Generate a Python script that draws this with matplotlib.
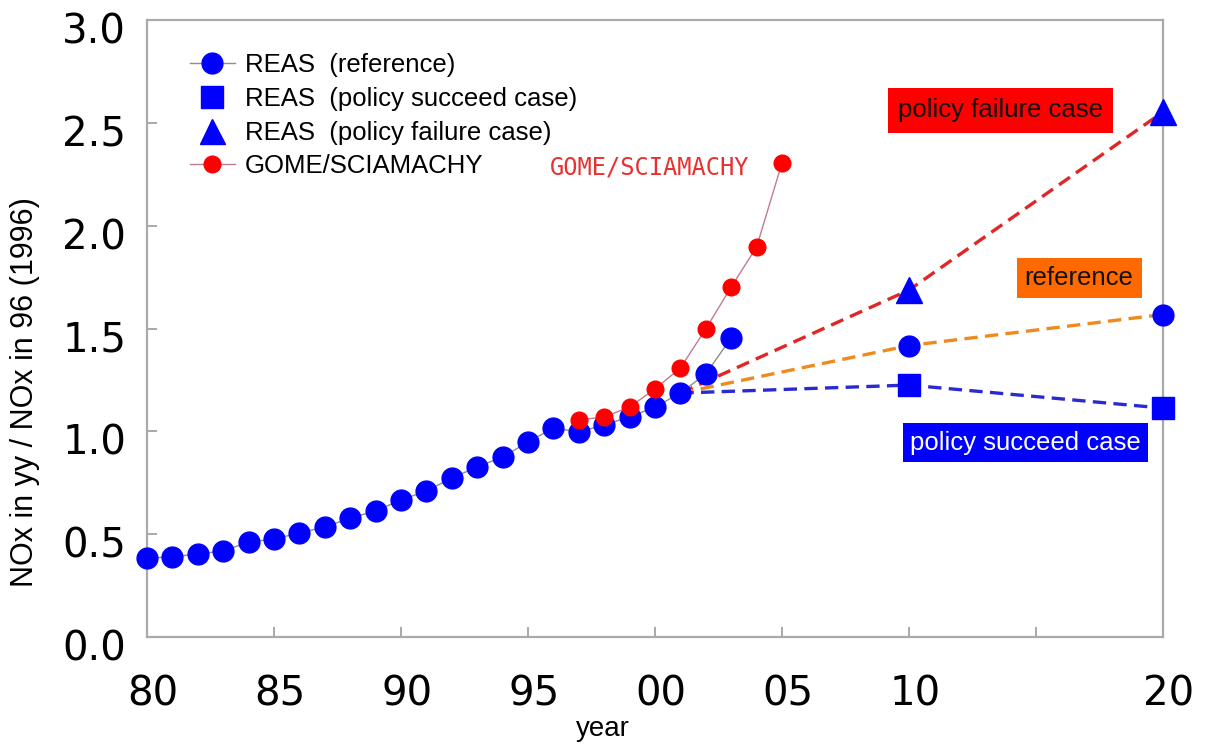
import matplotlib
matplotlib.use("Agg")
import matplotlib.pyplot as plt
import matplotlib.transforms as mtrans
from matplotlib.lines import Line2D

# --- data ---
hist_years = list(range(1980, 2004))
reas_hist = [0.384, 0.389, 0.404, 0.418, 0.462, 0.476, 0.506, 0.535, 0.578, 0.613,
             0.666, 0.710, 0.773, 0.827, 0.875, 0.948, 1.016, 0.997, 1.031, 1.070,
             1.118, 1.186, 1.279, 1.454]

gome_years = list(range(1997, 2006))
gome_vals = [1.055, 1.070, 1.118, 1.206, 1.308, 1.498, 1.702, 1.896, 2.305]

# scenarios branch off from the 2001 REAS value
branch_year = 2001
branch_val = 1.186
future_years = [2010, 2020]
ref_future = [1.417, 1.568]
succeed_future = [1.225, 1.113]
failure_future = [1.687, 2.553]

xticks = [1980, 1985, 1990, 1995, 2000, 2005, 2010, 2015, 2020]
xticklabels = ["80", "85", "90", "95", "00", "05", "10", "", "20"]
yticks = [0.0, 0.5, 1.0, 1.5, 2.0, 2.5, 3.0]

BLUE = "#0000ff"
RED = "#ff0000"
LBL = "Liberation Sans"

fig = plt.figure(figsize=(12.06, 7.49), dpi=100)
ax = fig.add_axes([147 / 1206, 112 / 749, 1016 / 1206, 617 / 749])

dash = (4, 2.2)
# scenario dashed lines
ax.plot([branch_year] + future_years, [branch_val] + failure_future, color="#e02626",
        lw=2.4, dashes=dash, zorder=2)
ax.plot([branch_year] + future_years, [branch_val] + ref_future, color="#f08a1e",
        lw=2.4, dashes=dash, zorder=2)
ax.plot([branch_year] + future_years, [branch_val] + succeed_future, color="#2a2ad0",
        lw=2.4, dashes=dash, zorder=2)

# REAS history
ax.plot(hist_years, reas_hist, color="#8c8c8c", lw=1.0, marker="o", ms=15,
        mfc=BLUE, mec=BLUE, zorder=3, clip_on=False)
ax.plot(future_years, ref_future, ls="none", marker="o", ms=15, mfc=BLUE, mec=BLUE,
        zorder=3, clip_on=False)
ax.plot(future_years, succeed_future, ls="none", marker="s", ms=16, mfc=BLUE, mec=BLUE,
        zorder=3, clip_on=False)
ax.plot(future_years, failure_future, ls="none", marker="^", ms=19, mfc=BLUE, mec=BLUE,
        zorder=3, clip_on=False)

# GOME/SCIAMACHY
ax.plot(gome_years, gome_vals, color="#c07c90", lw=1.0, marker="o", ms=12,
        mfc=RED, mec=RED, zorder=4)

ax.set_xlim(1980, 2020)
ax.set_ylim(0, 3.0)

ax.set_xticks(xticks)
ax.set_xticklabels(xticklabels)
ax.set_yticks(yticks)
ax.set_yticklabels([f"{v:.1f}" for v in yticks])
ax.tick_params(direction="in", length=7, width=1.2, color="#999999",
               labelsize=29, top=False, right=False)
ax.tick_params(axis="x", pad=27)
ax.tick_params(axis="y", pad=15)
for lab in ax.get_xticklabels():
    lab.set_transform(lab.get_transform() + mtrans.ScaledTranslation(6 / 100, 0, fig.dpi_scale_trans))
for lab in ax.get_yticklabels():
    lab.set_transform(lab.get_transform() + mtrans.ScaledTranslation(0, -8 / 100, fig.dpi_scale_trans))

for sp in ax.spines.values():
    sp.set_color("#aaaaaa")
    sp.set_linewidth(1.6)

ax.set_xlabel("year", family=LBL, fontsize=20)
ax.xaxis.set_label_coords(0.449, -0.128)
ax.set_ylabel("NOx in yy / NOx in 96 (1996)", family=LBL, fontsize=22)
ax.yaxis.set_label_coords(-0.105, 0.397)

# legend
handles = [
    Line2D([], [], color="#8c8c8c", lw=1.0, marker="o", ms=15, mfc=BLUE, mec=BLUE),
    Line2D([], [], ls="none", marker="s", ms=16, mfc=BLUE, mec=BLUE),
    Line2D([], [], ls="none", marker="^", ms=18, mfc=BLUE, mec=BLUE),
    Line2D([], [], color="#c07c90", lw=1.0, marker="o", ms=12, mfc=RED, mec=RED),
]
labels = ["REAS  (reference)", "REAS  (policy succeed case)",
          "REAS  (policy failure case)", "GOME/SCIAMACHY"]
ax.legend(handles, labels, loc="upper left", bbox_to_anchor=(0.042, 0.9465),
          frameon=False, borderpad=0, borderaxespad=0, handlelength=1.75,
          handletextpad=0.39, labelspacing=0.38, prop={"family": LBL, "size": 18.5})

# annotations
ax.text(1995.87, 2.282, "GOME/SCIAMACHY", color="#e83030", family="DejaVu Sans Mono",
        fontsize=17, ha="left", va="center")
ax.text(2013.6, 2.56, "policy failure case", color="#111111", family=LBL, fontsize=18.5,
        ha="center", va="center",
        bbox=dict(boxstyle="square,pad=0.4", fc="#ff0000", ec="none"))
ax.text(2016.7, 1.745, "reference", color="#111111", family=LBL, fontsize=18.5,
        ha="center", va="center",
        bbox=dict(boxstyle="square,pad=0.32", fc="#ff6a00", ec="none"))
ax.text(2014.6, 0.945, "policy succeed case", color="white", family=LBL, fontsize=18.5,
        ha="center", va="center",
        bbox=dict(boxstyle="square,pad=0.28", fc="#0000ff", ec="none"))

fig.savefig("out.png", dpi=100)
